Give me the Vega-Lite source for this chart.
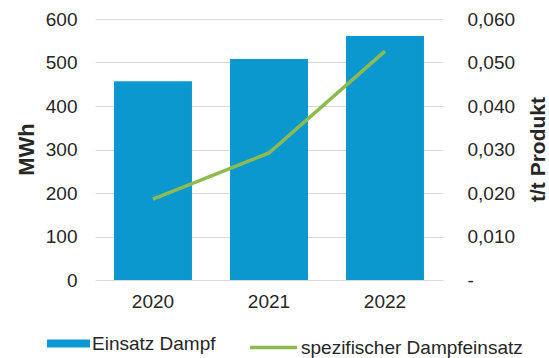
{
  "$schema": "https://vega.github.io/schema/vega-lite/v6.json",
  "width": 348,
  "height": 261,
  "autosize": {"type": "none"},
  "padding": {"left": 95, "top": 19, "right": 106, "bottom": 78},
  "background": "white",
  "config": {
    "view": {"stroke": null},
    "font": "Liberation Sans",
    "axis": {"labelFont": "Liberation Sans", "labelColor": "#262626", "titleColor": "#262626", "titleFont": "Liberation Sans"},
    "legend": {"labelFont": "Liberation Sans", "labelColor": "#262626"}
  },
  "data": {
    "values": [
      {"Jahr": "2020", "MWh": 457, "spez": 0.0186},
      {"Jahr": "2021", "MWh": 508, "spez": 0.0292},
      {"Jahr": "2022", "MWh": 561, "spez": 0.0526}
    ]
  },
  "encoding": {
    "x": {
      "field": "Jahr",
      "type": "ordinal",
      "scale": {"paddingInner": 0.328, "paddingOuter": 0.164},
      "axis": {"title": null, "labelAngle": 0, "labelFontSize": 19, "labelPadding": 12, "ticks": false, "domain": false, "grid": false}
    }
  },
  "layer": [
    {
      "mark": {"type": "bar", "color": "#0A98CF"},
      "encoding": {
        "y": {
          "field": "MWh",
          "type": "quantitative",
          "scale": {"domain": [0, 600]},
          "axis": {
            "title": "MWh",
            "titleFontSize": 22,
            "titleFontWeight": "bold",
            "titleAngle": 270,
            "titleX": -69,
            "titleY": 130,
            "titleAlign": "center",
            "titleBaseline": "middle",
            "values": [0, 100, 200, 300, 400, 500, 600],
            "labelFontSize": 19,
            "labelPadding": 18,
            "ticks": false,
            "domain": false,
            "grid": true,
            "gridColor": "#d9d9d9",
            "gridWidth": 1
          }
        },
        "fill": {
          "datum": "Einsatz Dampf",
          "type": "nominal",
          "scale": {"range": ["#0A98CF"]},
          "legend": {
            "title": null,
            "orient": "none",
            "legendX": -48,
            "legendY": 303,
            "padding": 0,
            "symbolType": "M-1,-0.19L1,-0.19L1,0.19L-1,0.19Z",
            "symbolSize": 1849,
            "symbolStrokeWidth": 0,
            "labelOffset": 2,
            "labelFontSize": 19,
            "labelLimit": 300
          }
        }
      }
    },
    {
      "mark": {"type": "line", "color": "#8DBB50", "strokeWidth": 3.5},
      "encoding": {
        "y": {
          "field": "spez",
          "type": "quantitative",
          "scale": {"domain": [0, 0.06]},
          "axis": {
            "orient": "right",
            "title": "t/t Produkt",
            "titleFontSize": 21,
            "titleFontWeight": "bold",
            "titleAngle": 270,
            "titleX": 95,
            "titleY": 130,
            "titleAlign": "center",
            "titleBaseline": "middle",
            "values": [0, 0.01, 0.02, 0.03, 0.04, 0.05, 0.06],
            "labelExpr": "datum.value == 0 ? '-' : replace(format(datum.value, '.3f'), '.', ',')",
            "labelFontSize": 19,
            "labelPadding": 24,
            "ticks": false,
            "domain": false,
            "grid": false
          }
        },
        "stroke": {
          "datum": "spezifischer Dampfeinsatz",
          "type": "nominal",
          "scale": {"range": ["#8DBB50"]},
          "legend": {
            "title": null,
            "orient": "none",
            "legendX": 153,
            "legendY": 303,
            "padding": 0,
            "symbolType": "stroke",
            "symbolSize": 2209,
            "symbolStrokeWidth": 3.5,
            "labelOffset": 2,
            "labelFontSize": 19,
            "labelLimit": 300
          }
        }
      }
    }
  ],
  "resolve": {"scale": {"y": "independent", "fill": "independent", "stroke": "independent"}}
}
